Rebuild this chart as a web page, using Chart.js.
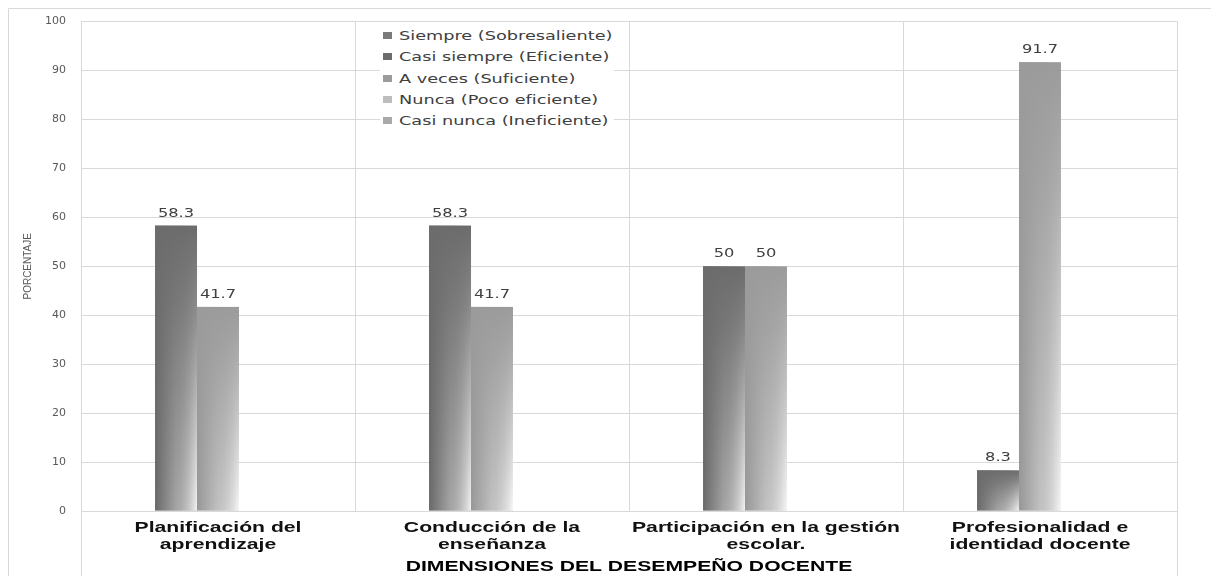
<!DOCTYPE html>
<html lang="es">
  <head>
    <meta charset="UTF-8">
    <title>Desempeño docente</title>
    <script src="https://cdn.jsdelivr.net/npm/chart.js@4.4.1/dist/chart.umd.min.js"></script>
    <style>
      body { margin: 0; background: #fff; }
      #wrap { position: relative; width: 1211px; height: 576px; }
      #legend {
        position: absolute; left: 380px; top: 25px; width: 234px;
        background: #fff; font-family: "DejaVu Sans", Verdana, sans-serif;
        font-size: 13px; color: #404040;
      }
      #legend div { position: relative; height: 21.3px; line-height: 21px; white-space: nowrap; }
      #legend .caja { position: absolute; left: 3px; top: 7px; width: 9px; height: 7px; }
      #legend .txt { position: absolute; left: 19px; top: 0; transform: scaleX(1.36); transform-origin: 0 50%; }
    </style>
    <script>
      const dimensiones = [
        ["Planificación del", "aprendizaje"],
        ["Conducción de la", "enseñanza"],
        ["Participación en la gestión", "escolar."],
        ["Profesionalidad e", "identidad docente"]
      ];
      const niveles = [
        "Siempre (Sobresaliente)",
        "Casi siempre (Eficiente)",
        "A veces (Suficiente)",
        "Nunca (Poco eficiente)",
        "Casi nunca (Ineficiente)"
      ];
      const siempre     = [0, 0, 0, 0];
      const casiSiempre = [58.3, 58.3, 50, 8.3];
      const aVeces      = [41.7, 41.7, 50, 91.7];
      const nunca       = [0, 0, 0, 0];
      const casiNunca   = [0, 0, 0, 0];
      const yTicks = [0, 10, 20, 30, 40, 50, 60, 70, 80, 90, 100];
      const tituloX = 'DIMENSIONES DEL DESEMPEÑO DOCENTE';
      const tituloY = 'PORCENTAJE';

      // color de arriba, borde izquierdo y borde derecho del degradado de cada serie
      const tonos = [
        ["#7a7a7a", "#6e6e6e", "#e8e8e8"],
        ["#6c6c6c", "#686868", "#f2f2f2"],
        ["#9b9b9b", "#979797", "#f7f7f7"],
        ["#bdbdbd", "#b5b5b5", "#f7f7f7"],
        ["#a9a9a9", "#a0a0a0", "#f7f7f7"]
      ];

      const ANCHO = 1.41; // los textos van estirados a lo ancho

      const rgba = (hex, a) => {
        const n = parseInt(hex.slice(1), 16);
        return `rgba(${n >> 16},${(n >> 8) & 255},${n & 255},${a})`;
      };

      function texto(c, s, x, y, sx) {
        c.save();
        c.translate(x, y);
        c.scale(sx, 1);
        c.fillText(s, 0, 0);
        c.restore();
      }

      // marco exterior y lineas verticales que bajan hasta el borde
      const marco = {
        id: 'marco',
        beforeDraw(chart) {
          const c = chart.ctx, a = chart.chartArea;
          c.save();
          c.strokeStyle = '#d9d9d9';
          c.lineWidth = 1;
          c.beginPath();
          c.moveTo(8.5, chart.height); c.lineTo(8.5, 8.5); c.lineTo(chart.width, 8.5);
          c.moveTo(Math.round(a.left) + 0.5, a.top); c.lineTo(Math.round(a.left) + 0.5, chart.height);
          c.moveTo(Math.round(a.right) + 0.5, a.top); c.lineTo(Math.round(a.right) + 0.5, chart.height);
          c.stroke();
          c.restore();
        }
      };

      // etiquetas de categoria y titulos de ejes
      const rotulos = {
        id: 'rotulos',
        afterDraw(chart) {
          const c = chart.ctx, sx = chart.scales.x, a = chart.chartArea;
          c.save();
          c.fillStyle = '#111';
          c.textAlign = 'center';
          c.textBaseline = 'middle';
          c.font = 'bold 15px "Liberation Sans", Arial, sans-serif';
          dimensiones.forEach((lineas, i) => {
            const x = sx.getPixelForTick(i);
            lineas.forEach((l, k) => texto(c, l, x, a.bottom + 17 + k * 17, ANCHO));
          });
          c.fillStyle = '#000';
          texto(c, tituloX, (a.left + a.right) / 2, a.bottom + 56, ANCHO);
          c.restore();

          c.save();
          c.translate(28, (a.top + a.bottom) / 2);
          c.rotate(-Math.PI / 2);
          c.font = '10px "Liberation Sans Narrow", "Liberation Sans", sans-serif';
          c.fillStyle = '#595959';
          c.textAlign = 'center';
          c.textBaseline = 'middle';
          c.fillText(tituloY, 0, 0);
          c.restore();
        }
      };

      // degradado de las barras y etiquetas de valor
      const barras = {
        id: 'barras',
        afterDatasetsDraw(chart) {
          const c = chart.ctx;
          chart.data.datasets.forEach((ds, i) => {
            const meta = chart.getDatasetMeta(i);
            const t = tonos[i];
            meta.data.forEach((bar, j) => {
              const v = ds.data[j];
              if (!v) return;
              const {x, y, base, width} = bar.getProps(['x', 'y', 'base', 'width'], true);
              const l = x - width / 2;
              c.save();
              const h = c.createLinearGradient(l, 0, l + width, 0);
              h.addColorStop(0, t[1]);
              h.addColorStop(0.5, rgba(t[1], 0.6));
              h.addColorStop(1, t[2]);
              c.fillStyle = '#fff';
              c.fillRect(l, y, width, base - y);
              c.fillStyle = h;
              c.fillRect(l, y, width, base - y);
              const g = c.createLinearGradient(0, y, 0, base);
              g.addColorStop(0, rgba(t[0], 1));
              g.addColorStop(0.25, rgba(t[0], 0.8));
              g.addColorStop(1, rgba(t[0], 0));
              c.fillStyle = g;
              c.fillRect(l, y, width, base - y);
              c.font = '13px "DejaVu Sans", Verdana, sans-serif';
              c.fillStyle = '#404040';
              c.textAlign = 'center';
              c.textBaseline = 'bottom';
              texto(c, String(v), x, y - 6, 1.25);
              c.restore();
            });
          });
        }
      };

      window.onload = function () {
        const series = [siempre, casiSiempre, aVeces, nunca, casiNunca];
        const legend = document.getElementById('legend');
        niveles.forEach((n, i) => {
          const row = document.createElement('div');
          row.innerHTML = `<span class="caja" style="background:${tonos[i][0]}"></span><span class="txt">${n}</span>`;
          legend.appendChild(row);
        });

        new Chart(document.getElementById('grafico').getContext('2d'), {
          type: 'bar',
          data: {
            labels: dimensiones,
            datasets: series.map((d, i) => ({
              label: niveles[i],
              data: d,
              backgroundColor: tonos[i][0],
              borderWidth: 0,
              barPercentage: 1,
              categoryPercentage: 0.766
            }))
          },
          options: {
            responsive: false,
            animation: false,
            layout: { padding: { left: 0, right: 34, top: 20, bottom: 0 } },
            plugins: { legend: { display: false }, tooltip: { enabled: false } },
            scales: {
              x: {
                grid: { offset: true, color: '#d9d9d9', drawTicks: false },
                border: { display: false },
                ticks: { display: false },
                afterFit(s) { s.height = 65; }
              },
              y: {
                min: 0, max: 100,
                afterBuildTicks(s) { s.ticks = yTicks.map(v => ({ value: v })); },
                grid: { color: '#d9d9d9', drawTicks: false },
                border: { display: false },
                ticks: {
                  padding: 15,
                  color: '#595959',
                  font: { family: '"DejaVu Sans", Verdana, sans-serif', size: 11 }
                },
                afterFit(s) { s.width = 81; }
              }
            }
          },
          plugins: [marco, barras, rotulos]
        });
      }
    </script>
  </head>
  <body>
    <div id="wrap">
      <canvas id="grafico" width="1211" height="576"></canvas>
      <div id="legend"></div>
    </div>
  </body>
</html>
